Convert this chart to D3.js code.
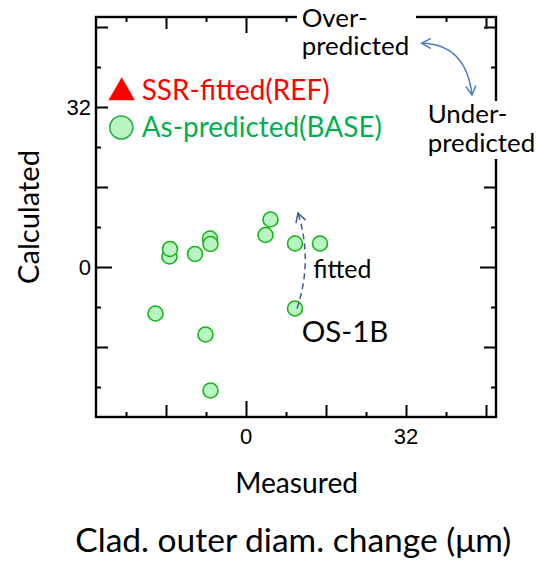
<!DOCTYPE html>
<html>
<head>
<meta charset="utf-8">
<script src="https://cdn.jsdelivr.net/npm/d3@7"></script>
<style>
  html, body { margin: 0; padding: 0; background: #fff; }
  svg { display: block; }
</style>
</head>
<body>
<svg id="chart" width="537" height="561"></svg>
<script>
// ---- data ----
const measured   = [-15.3, -15.2, -10.2, -7.2, -7.1, 3.9, 4.9, 9.8, 14.8, -18.1, 9.8, -8.1, -7.1];
const calculated = [  2.1,   3.6,   2.6,  5.7,  4.6, 6.4, 9.5, 4.7,  4.7,  -9.3, -8.3, -13.5, -24.7];
const refMeasured = [];   // SSR-fitted(REF) – no markers visible
const refCalculated = [];
const tickValues = [-24, -16, -8, 0, 8, 16, 24, 32, 40, 48];
const labelTicks = [0, 32];
const seriesNames = ["SSR-fitted(REF)", "As-predicted(BASE)"];
const fittedFrom = [9.8, -8.3];   // OS-1B as-predicted
const fittedTo   = [10.4, 10.8];  // arrow tip

const svg = d3.select("#chart");
const CAL = "Lato, 'Open Sans', sans-serif";

const x = d3.scaleLinear().domain([-30, 50]).range([96, 496]);
const y = d3.scaleLinear().domain([-30, 50]).range([417, 17]);

// ticks (inward on all sides)
const groups = [
  {vals: tickValues.filter(v => v === 0), len: 16},
  {vals: tickValues.filter(v => v !== 0 && v % 16 === 0), len: 12},
  {vals: tickValues.filter(v => v % 16 !== 0), len: 5}
];
groups.forEach(g => {
  const mk = (axis, tr) => svg.append("g").attr("transform", tr)
    .call(axis.tickValues(g.vals).tickSize(-g.len).tickFormat(""))
    .call(s => s.select(".domain").remove())
    .call(s => s.selectAll("line").attr("stroke", "#000").attr("stroke-width", 2));
  mk(d3.axisBottom(x), `translate(0,${y(-30)})`);
  mk(d3.axisTop(x), `translate(0,${y(50)})`);
  mk(d3.axisLeft(y), `translate(${x(-30)},0)`);
  mk(d3.axisRight(y), `translate(${x(50)},0)`);
});

// frame
svg.append("rect")
  .attr("x", x(-30)).attr("y", y(50))
  .attr("width", x(50) - x(-30)).attr("height", y(-30) - y(50))
  .attr("fill", "none").attr("stroke", "#000").attr("stroke-width", 2.4);

// tick labels
svg.append("g").selectAll("text").data(labelTicks).join("text")
  .attr("x", d => x(d)).attr("y", y(-30) + 27)
  .attr("text-anchor", "middle")
  .attr("font-family", "'Liberation Sans', Arial, sans-serif").attr("font-size", 22)
  .text(d => d);
svg.append("g").selectAll("text").data(labelTicks).join("text")
  .attr("x", x(-30) - 5).attr("y", d => y(d) + 8)
  .attr("text-anchor", "end")
  .attr("font-family", "'Liberation Sans', Arial, sans-serif").attr("font-size", 22)
  .text(d => d);

// fit helper (match reference widths with the substitute font)
function fit(sel, w) {
  sel.attr("font-size", 30);
  const len = sel.node().getComputedTextLength();
  sel.attr("font-size", 30 * w / len);
  return 30 * w / len;
}

// axis titles
const mt = svg.append("text").attr("x", 296.7).attr("y", 492.5)
  .attr("text-anchor", "middle").attr("font-family", CAL).text("Measured");
fit(mt, 123);
const ct = svg.append("text")
  .attr("transform", "translate(39,217) rotate(-90)")
  .attr("text-anchor", "middle").attr("font-family", CAL).text("Calculated");
fit(ct, 134);
const bt = svg.append("text").attr("x", 293.3).attr("y", 551.5)
  .attr("text-anchor", "middle").attr("font-family", CAL).text("Clad. outer diam. change (\u03bcm)");
fit(bt, 436);

// data points
svg.append("g").selectAll("circle").data(measured.map((m, i) => [m, calculated[i]])).join("circle")
  .attr("cx", d => x(d[0])).attr("cy", d => y(d[1])).attr("r", 7.5)
  .attr("fill", "#b9f5c2").attr("stroke", "#17b317").attr("stroke-width", 1.6);
svg.append("g").selectAll("path").data(refMeasured.map((m, i) => [m, refCalculated[i]])).join("path")
  .attr("d", d3.symbol(d3.symbolTriangle, 120))
  .attr("transform", d => `translate(${x(d[0])},${y(d[1])})`).attr("fill", "#ff0000");

// legend
svg.append("path").attr("d", d3.symbol(d3.symbolTriangle, 305)())
  .attr("transform", "translate(121.7,92.5)").attr("fill", "#ff0000");
svg.append("circle").attr("cx", 121.3).attr("cy", 127.5).attr("r", 11.5)
  .attr("fill", "#b9f5c2").attr("stroke", "#22b04a").attr("stroke-width", 1.6);
const l1 = svg.append("text").attr("x", 141.7).attr("y", 100)
  .attr("font-family", CAL).attr("fill", "#ff0000").text(seriesNames[0]);
const lfs = fit(l1, 188);
svg.append("text").attr("x", 141.7).attr("y", 136.7)
  .attr("font-family", CAL).attr("font-size", lfs).attr("fill", "#00b050").text(seriesNames[1]);

// markers
const defs = svg.append("defs");
function chevron(id, color) {
  defs.append("marker").attr("id", id)
    .attr("viewBox", "-10 -6 12 12").attr("refX", 0).attr("refY", 0)
    .attr("markerWidth", 12).attr("markerHeight", 12)
    .attr("markerUnits", "userSpaceOnUse")
    .attr("orient", "auto-start-reverse")
    .append("path").attr("d", "M-9,-5 L0,0 L-9,5")
    .attr("fill", "none").attr("stroke", color).attr("stroke-width", 1.5);
}
chevron("arrB", "#4a7ec0");
chevron("arrD", "#3d5f90");

// Over / Under annotation (white boxes mask the frame, as in the reference)
svg.append("rect").attr("x", 297).attr("y", 2).attr("width", 119).attr("height", 60).attr("fill", "#fff");
svg.append("rect").attr("x", 423).attr("y", 101).attr("width", 114).attr("height", 58).attr("fill", "#fff");

function twoLine(x0, y0, a, b) {
  const t = svg.append("text").attr("x", x0).attr("y", y0).attr("font-family", CAL);
  t.append("tspan").attr("x", x0).attr("y", y0).text(a);
  t.append("tspan").attr("x", x0).attr("y", y0 + 28.3).text(b);
  return t;
}
const ovr = twoLine(301.7, 26.7, "Over-", "predicted");
// size from the width of "predicted" (107.6 px in the reference)
ovr.attr("font-size", 30);
const pl = ovr.select("tspan:nth-child(2)").node().getComputedTextLength();
const afs = 30 * 107.6 / pl;
ovr.attr("font-size", afs);
twoLine(427.7, 123.3, "Under-", "predicted").attr("font-size", afs);

const p = d3.path();
p.moveTo(421.7, 43.3);
p.quadraticCurveTo(466, 44, 472, 95);
svg.append("path").attr("d", p.toString())
  .attr("fill", "none").attr("stroke", "#4a7ec0").attr("stroke-width", 1.5)
  .attr("marker-start", "url(#arrB)").attr("marker-end", "url(#arrB)");

// fitted arrow (OS-1B)
const fp = d3.path();
const fx0 = x(fittedFrom[0]) + 2, fy0 = y(fittedFrom[1]);
const fx1 = x(fittedTo[0]), fy1 = y(fittedTo[1]);
fp.moveTo(fx0, fy0);
fp.quadraticCurveTo(fx0 + 16, (fy0 + fy1) / 2, fx1, fy1);
svg.append("path").attr("d", fp.toString())
  .attr("fill", "none").attr("stroke", "#3d5f90").attr("stroke-width", 1.5)
  .attr("stroke-dasharray", "6,4").attr("marker-end", "url(#arrD)");

const ft = svg.append("text").attr("x", 313.3).attr("y", 278.3).attr("font-family", CAL).text("fitted");
fit(ft, 58);
const os = svg.append("text").attr("x", 301.7).attr("y", 341.7).attr("font-family", CAL).text("OS-1B");
fit(os, 86.7);
</script>
</body>
</html>
